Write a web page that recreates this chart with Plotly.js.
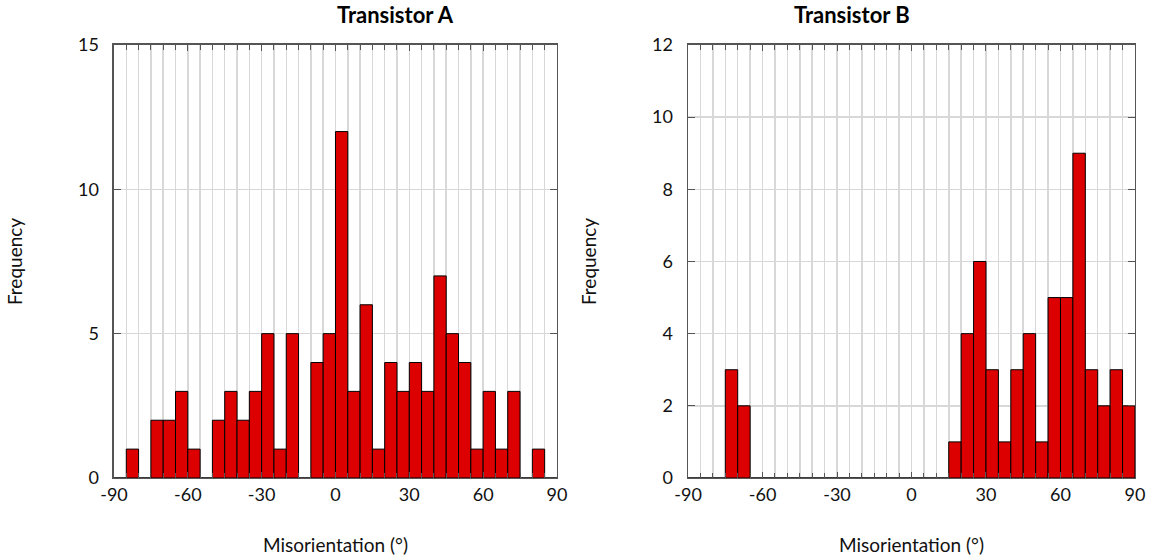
<!DOCTYPE html>
<html>
<head>
<meta charset="utf-8">
<script src="https://cdn.plot.ly/plotly-3.0.1.min.js"></script>
<style>html,body{margin:0;padding:0;background:#fff;}#chart{width:1156px;height:558px;}</style>
</head>
<body>
<div id="chart"></div>
<script>
// Bin centres (5-degree bins from -90 to 90)
const binCenters = [-87.5,-82.5,-77.5,-72.5,-67.5,-62.5,-57.5,-52.5,-47.5,-42.5,-37.5,-32.5,
  -27.5,-22.5,-17.5,-12.5,-7.5,-2.5,2.5,7.5,12.5,17.5,22.5,27.5,32.5,37.5,42.5,47.5,52.5,57.5,
  62.5,67.5,72.5,77.5,82.5,87.5];
const countsA = [0,1,0,2,2,3,1,0,2,3,2,3,5,1,5,0,4,5,12,3,6,1,4,3,4,3,7,5,4,1,3,1,3,0,1,0];
const countsB = [0,0,0,3,2,0,0,0,0,0,0,0,0,0,0,0,0,0,0,0,0,1,4,6,3,1,3,4,1,5,5,9,3,2,3,2];
const xTicks = [-90,-60,-30,0,30,60,90];
const xTickText = ['-90','-60','-30','0','30','60','90'];
const titles = ['Transistor A','Transistor B'];
const xTitle = 'Misorientation (°)';
const yTitle = 'Frequency';

const FONT = 'Lato, "Open Sans", sans-serif';
const barStyle = {color:'#dd0000', line:{color:'#000', width:1}};

const traces = [
  {type:'bar', x:binCenters, y:countsA, width:5, marker:barStyle, xaxis:'x', yaxis:'y', hoverinfo:'x+y'},
  {type:'bar', x:binCenters, y:countsB, width:5, marker:barStyle, xaxis:'x2', yaxis:'y2', hoverinfo:'x+y'}
];

function xAxis(domain){
  return {
    domain:domain, range:[-90,90], tickmode:'array', tickvals:xTicks, ticktext:xTickText,
    ticks:'inside', ticklen:6, tickcolor:'#555', showgrid:true, gridcolor:'#d8d8d8', gridwidth:1.5,
    minor:{dtick:5, tick0:-90, showgrid:true, gridcolor:'#d8d8d8', gridwidth:1.5, ticks:'inside', ticklen:5, tickcolor:'#555'},
    showline:true, linecolor:'#555', linewidth:1.5, mirror:'ticks', zeroline:false,
    tickfont:{family:FONT, size:18, color:'#111'},
    title:{text:xTitle, font:{family:FONT, size:19, color:'#111'}, standoff:34},
    automargin:false, fixedrange:true
  };
}
function yAxis(max, dtick, anchor){
  return {
    domain:[0.1434,0.9194], range:[0,max], dtick:dtick, anchor:anchor,
    ticks:'inside', ticklen:7, tickcolor:'#555', showgrid:true, gridcolor:'#d8d8d8', gridwidth:1.5,
    showline:true, linecolor:'#555', linewidth:1.5, mirror:'ticks', zeroline:false,
    tickfont:{family:FONT, size:18, color:'#111'}, ticklabelstandoff:10,
    title:{text:yTitle, font:{family:FONT, size:19, color:'#111'}, standoff:50},
    automargin:false, fixedrange:true
  };
}

const layout = {
  width:1156, height:558, margin:{l:0,r:0,t:0,b:0},
  paper_bgcolor:'#fff', plot_bgcolor:'#fff', showlegend:false, bargap:0,
  xaxis:Object.assign(xAxis([0.0986,0.4818]), {anchor:'y'}),
  yaxis:yAxis(15,5,'x'),
  xaxis2:Object.assign(xAxis([0.5952,0.9818]), {anchor:'y2'}),
  yaxis2:yAxis(12,2,'x2'),
  annotations:[
    {text:'<b>'+titles[0]+'</b>', xref:'paper', yref:'paper', x:0.2902, y:1-15/558, showarrow:false, font:{family:FONT, size:22, color:'#000'}, yanchor:'middle'},
    {text:'<b>'+titles[1]+'</b>', xref:'paper', yref:'paper', x:0.7885, y:1-15/558, showarrow:false, font:{family:FONT, size:22, color:'#000'}, yanchor:'middle'}
  ]
};

Plotly.newPlot('chart', traces, layout, {staticPlot:true, displayModeBar:false});
</script>
</body>
</html>
